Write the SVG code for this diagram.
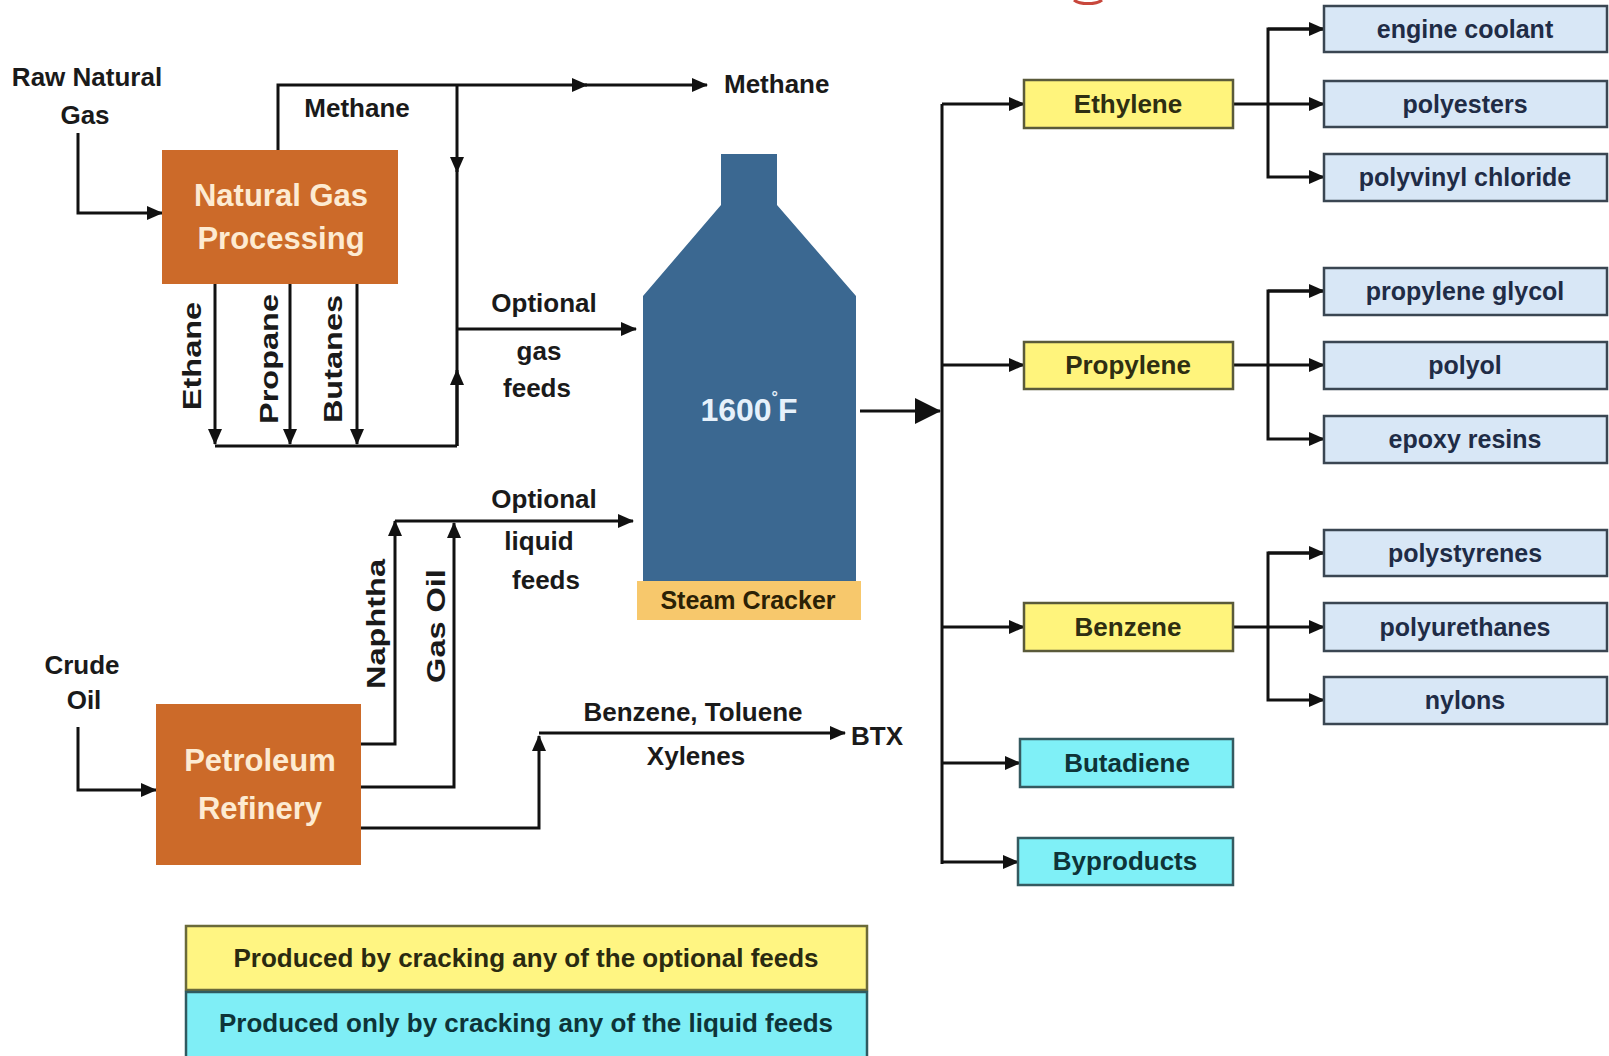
<svg xmlns="http://www.w3.org/2000/svg" width="1609" height="1056" viewBox="0 0 1609 1056">
<defs>
<marker id="arr" markerUnits="userSpaceOnUse" markerWidth="16" markerHeight="14" refX="15" refY="7" orient="auto">
<path d="M0,0 L16,7 L0,14 z" fill="#111"/>
</marker>
<marker id="big" markerUnits="userSpaceOnUse" markerWidth="26" markerHeight="26" refX="25" refY="13" orient="auto">
<path d="M0,0 L26,13 L0,26 z" fill="#111"/>
</marker>
</defs>
<style>
text{font-family:"Liberation Sans",Arial,sans-serif;font-weight:bold;text-anchor:middle;dominant-baseline:central}
.lbl{font-size:26px;fill:#1a1a1a}
.proc{font-size:31px;fill:#fdebd2}
.prod{font-size:25px;fill:#1f2c46}
.yel{font-size:26px;fill:#2e2e12}
.cyn{font-size:26px;fill:#0e3438}
.leg{font-size:26px}
.orange{fill:#cc6a29}
.ybox{fill:#fff47c;stroke:#5a5a3a;stroke-width:2.5}
.cbox{fill:#7ff0f7;stroke:#355a60;stroke-width:2.5}
.pbox{fill:#d8e7f6;stroke:#3a4652;stroke-width:2.5}
.ln{fill:none;stroke:#111;stroke-width:3}
</style>
<rect width="1609" height="1056" fill="#ffffff"/>
<path d="M1074,0 A16,7 0 0 0 1102,0" fill="none" stroke="#c8473c" stroke-width="3"/>

<g id="connectors">
<path class="ln" d="M78,133 V213 H162" marker-end="url(#arr)"/>
<path class="ln" d="M278,150 V85 H587" marker-end="url(#arr)"/>
<path class="ln" d="M585,85 H707" marker-end="url(#arr)"/>
<path class="ln" d="M457,85 V172" marker-end="url(#arr)"/>
<path class="ln" d="M457,170 V446"/>
<path class="ln" d="M457,446 V370" marker-end="url(#arr)"/>
<path class="ln" d="M215,284 V444" marker-end="url(#arr)"/>
<path class="ln" d="M290,284 V444" marker-end="url(#arr)"/>
<path class="ln" d="M357,284 V444" marker-end="url(#arr)"/>
<path class="ln" d="M215,446 H457"/>
<path class="ln" d="M457,329 H636" marker-end="url(#arr)"/>
<path class="ln" d="M361,744 H395 V521" marker-end="url(#arr)"/>
<path class="ln" d="M395,521 H633" marker-end="url(#arr)"/>
<path class="ln" d="M361,787 H454 V523" marker-end="url(#arr)"/>
<path class="ln" d="M361,828 H539 V736" marker-end="url(#arr)"/>
<path class="ln" d="M539,733 H845" marker-end="url(#arr)"/>
<path class="ln" d="M78,727 V790 H156" marker-end="url(#arr)"/>
<path class="ln" d="M860,411 H940" marker-end="url(#big)"/>
<path class="ln" d="M942,104 V864"/>
<path class="ln" d="M942,104 H1024" marker-end="url(#arr)"/>
<path class="ln" d="M942,365 H1024" marker-end="url(#arr)"/>
<path class="ln" d="M942,627 H1024" marker-end="url(#arr)"/>
<path class="ln" d="M942,763 H1020" marker-end="url(#arr)"/>
<path class="ln" d="M942,862 H1018" marker-end="url(#arr)"/>
<path class="ln" d="M1233,104 H1324" marker-end="url(#arr)"/>
<path class="ln" d="M1324,29 H1268 V177 H1324" marker-end="url(#arr)"/>
<path class="ln" d="M1268,29 H1324" marker-end="url(#arr)"/>
<path class="ln" d="M1233,365 H1324" marker-end="url(#arr)"/>
<path class="ln" d="M1324,291 H1268 V439 H1324" marker-end="url(#arr)"/>
<path class="ln" d="M1268,291 H1324" marker-end="url(#arr)"/>
<path class="ln" d="M1233,627 H1324" marker-end="url(#arr)"/>
<path class="ln" d="M1324,553 H1268 V700 H1324" marker-end="url(#arr)"/>
<path class="ln" d="M1268,553 H1324" marker-end="url(#arr)"/>
</g>

<g id="labels">
<text class="lbl" x="87" y="77">Raw Natural</text>
<text class="lbl" x="85" y="115">Gas</text>
<text class="lbl" x="357" y="108">Methane</text>
<text class="lbl" x="724" y="84" style="text-anchor:start">Methane</text>
<text class="lbl" transform="translate(192,356) rotate(-90) scale(1.25,1)">Ethane</text>
<text class="lbl" transform="translate(269,359) rotate(-90) scale(1.25,1)">Propane</text>
<text class="lbl" transform="translate(333,359) rotate(-90) scale(1.25,1)">Butanes</text>
<text class="lbl" x="544" y="303">Optional</text>
<text class="lbl" x="539" y="351">gas</text>
<text class="lbl" x="537" y="388">feeds</text>
<text class="lbl" x="544" y="499">Optional</text>
<text class="lbl" x="539" y="541">liquid</text>
<text class="lbl" x="546" y="580">feeds</text>
<text class="lbl" transform="translate(376,624) rotate(-90) scale(1.25,1)">Naphtha</text>
<text class="lbl" transform="translate(436,626) rotate(-90) scale(1.25,1)">Gas Oil</text>
<text class="lbl" x="82" y="665">Crude</text>
<text class="lbl" x="84" y="700">Oil</text>
<text class="lbl" x="693" y="712">Benzene, Toluene</text>
<text class="lbl" x="696" y="756">Xylenes</text>
<text class="lbl" x="851" y="736" style="text-anchor:start">BTX</text>
</g>

<g id="natural-gas-processing">
<rect class="orange" x="162" y="150" width="236" height="134"/>
<text class="proc" x="281" y="195">Natural Gas</text>
<text class="proc" x="281" y="238">Processing</text>
</g>

<g id="petroleum-refinery">
<rect class="orange" x="156" y="704" width="205" height="161"/>
<text class="proc" x="260" y="760">Petroleum</text>
<text class="proc" x="260" y="808">Refinery</text>
</g>

<g id="steam-cracker">
<path d="M721,154 H777 V205 L856,296 V581 H643 V296 L721,205 Z" fill="#3b6891"/>
<rect x="637" y="581" width="224" height="39" fill="#f7c86c"/>
<text x="749" y="410" style="font-size:32px;fill:#e6f1fb">1600<tspan dy="-13" style="font-size:16px">°</tspan><tspan dy="13">F</tspan></text>
<text x="748" y="600" style="font-size:25px;fill:#2b2105">Steam Cracker</text>
</g>

<g id="ethylene"><rect class="ybox" x="1024" y="80" width="209" height="48"/><text class="yel" x="1128" y="104">Ethylene</text></g>
<g id="propylene"><rect class="ybox" x="1024" y="342" width="209" height="47"/><text class="yel" x="1128" y="365">Propylene</text></g>
<g id="benzene"><rect class="ybox" x="1024" y="603" width="209" height="48"/><text class="yel" x="1128" y="627">Benzene</text></g>
<g id="butadiene"><rect class="cbox" x="1020" y="739" width="213" height="48"/><text class="cyn" x="1127" y="763">Butadiene</text></g>
<g id="byproducts"><rect class="cbox" x="1018" y="838" width="215" height="47"/><text class="cyn" x="1125" y="861">Byproducts</text></g>

<g id="engine-coolant"><rect class="pbox" x="1324" y="6" width="283" height="46"/><text class="prod" x="1465" y="29">engine coolant</text></g>
<g id="polyesters"><rect class="pbox" x="1324" y="81" width="283" height="46"/><text class="prod" x="1465" y="104">polyesters</text></g>
<g id="polyvinyl-chloride"><rect class="pbox" x="1324" y="154" width="283" height="47"/><text class="prod" x="1465" y="177">polyvinyl chloride</text></g>
<g id="propylene-glycol"><rect class="pbox" x="1324" y="268" width="283" height="47"/><text class="prod" x="1465" y="291">propylene glycol</text></g>
<g id="polyol"><rect class="pbox" x="1324" y="342" width="283" height="47"/><text class="prod" x="1465" y="365">polyol</text></g>
<g id="epoxy-resins"><rect class="pbox" x="1324" y="416" width="283" height="47"/><text class="prod" x="1465" y="439">epoxy resins</text></g>
<g id="polystyrenes"><rect class="pbox" x="1324" y="530" width="283" height="46"/><text class="prod" x="1465" y="553">polystyrenes</text></g>
<g id="polyurethanes"><rect class="pbox" x="1324" y="603" width="283" height="48"/><text class="prod" x="1465" y="627">polyurethanes</text></g>
<g id="nylons"><rect class="pbox" x="1324" y="677" width="283" height="47"/><text class="prod" x="1465" y="700">nylons</text></g>

<g id="legend">
<rect x="186" y="926" width="681" height="64" fill="#fff582" stroke="#6a6a3a" stroke-width="2.5"/>
<text class="leg" x="526" y="958" style="fill:#2a2a10">Produced by cracking any of the optional feeds</text>
<rect x="186" y="992" width="681" height="66" fill="#7feef6" stroke="#2f5a60" stroke-width="2.5"/>
<text class="leg" x="526" y="1023" style="fill:#0e3438">Produced only by cracking any of the liquid feeds</text>
</g>
</svg>
